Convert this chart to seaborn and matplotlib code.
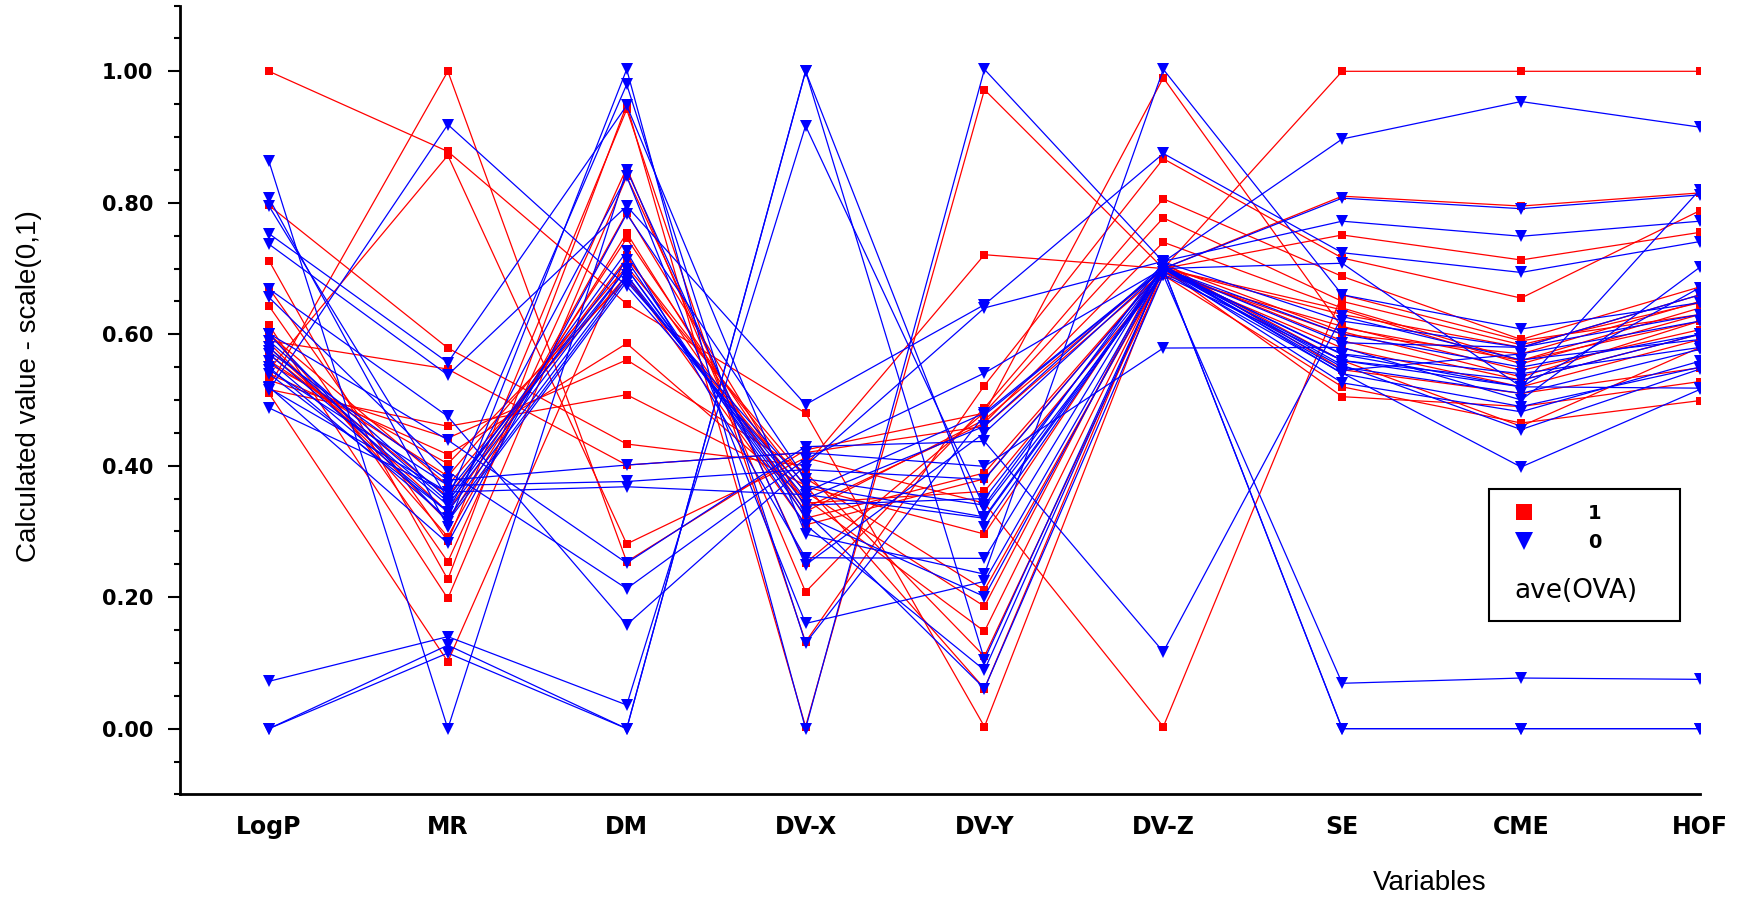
import numpy as np
import pandas as pd
import matplotlib
matplotlib.use("Agg")
import matplotlib.pyplot as plt
from matplotlib.lines import Line2D
from matplotlib.patches import Rectangle
from matplotlib.ticker import MultipleLocator
import seaborn as sns

# variables on the x axis
variables = ["LogP", "MR", "DM", "DV-X", "DV-Y", "DV-Z", "SE", "CME", "HOF"]

# class 1 (red squares), one entry per compound
red_logp = [1.00, 0.52, 0.546, 0.796, 0.712, 0.670, 0.643, 0.614, 0.602, 0.587, 0.58, 0.57, 0.560, 0.555, 0.54, 0.53, 0.516, 0.51, 0.59, 0.60]
red_mr = [0.878, 1.00, 0.872, 0.579, 0.227, 0.285, 0.254, 0.198, 0.292, 0.315, 0.33, 0.353, 0.384, 0.403, 0.417, 0.442, 0.460, 0.102, 0.547, 0.37]
red_dm = [0.646, 0.254, 0.281, 0.433, 0.949, 0.942, 0.853, 0.840, 0.785, 0.754, 0.746, 0.716, 0.703, 0.683, 0.586, 0.561, 0.508, 0.72, 0.401, 0.69]
red_dvx = [0.48, 0.424, 0.412, 0.40, 0.003, 0.132, 0.208, 0.252, 0.336, 0.320, 0.343, 0.368, 0.381, 0.36, 0.35, 0.39, 0.37, 0.33, 0.42, 0.31]
red_dvy = [0.003, 0.48, 0.343, 0.721, 0.972, 0.522, 0.488, 0.481, 0.465, 0.389, 0.361, 0.296, 0.211, 0.186, 0.148, 0.110, 0.061, 0.47, 0.46, 0.38]
red_dvz = [0.70, 0.99, 0.003, 0.70, 0.70, 0.867, 0.806, 0.777, 0.740, 0.70, 0.69, 0.705, 0.695, 0.71, 0.70, 0.69, 0.705, 0.70, 0.695, 0.70]
red_se = [1.00, 0.61, 0.66, 0.751, 0.81, 0.716, 0.688, 0.65, 0.64, 0.637, 0.612, 0.604, 0.579, 0.546, 0.505, 0.52, 0.56, 0.59, 0.60, 0.63]
red_cme = [1.00, 0.56, 0.59, 0.713, 0.795, 0.655, 0.592, 0.584, 0.56, 0.555, 0.545, 0.535, 0.52, 0.51, 0.49, 0.465, 0.46, 0.53, 0.57, 0.58]
red_hof = [1.00, 0.62, 0.63, 0.755, 0.815, 0.788, 0.672, 0.648, 0.64, 0.63, 0.607, 0.62, 0.592, 0.549, 0.528, 0.499, 0.58, 0.60, 0.65, 0.66]

# class 0 (blue triangles)
blue_logp = [0.0, 0.0, 0.072, 0.515, 0.863, 0.807, 0.795, 0.753, 0.737, 0.669, 0.656, 0.601, 0.574, 0.546, 0.518, 0.488, 0.59, 0.58, 0.57, 0.56, 0.55, 0.60, 0.54, 0.52]
blue_mr = [0.115, 0.127, 0.140, 0.919, 0.0, 0.307, 0.35, 0.557, 0.538, 0.475, 0.391, 0.439, 0.378, 0.37, 0.36, 0.36, 0.35, 0.345, 0.34, 0.33, 0.32, 0.315, 0.33, 0.282]
blue_dm = [0.0, 0.0, 0.036, 0.673, 0.850, 1.003, 0.98, 0.948, 0.795, 0.158, 0.213, 0.252, 0.401, 0.376, 0.368, 0.70, 0.726, 0.713, 0.70, 0.69, 0.685, 0.68, 0.840, 0.783]
blue_dvx = [1.0, 1.0, 0.917, 0.36, 0.249, 0.0, 0.130, 0.296, 0.493, 0.40, 0.41, 0.429, 0.42, 0.394, 0.356, 0.323, 0.26, 0.31, 0.33, 0.34, 0.35, 0.37, 0.160, 0.38]
blue_dvy = [0.105, 0.307, 0.336, 0.48, 0.45, 1.003, 0.477, 0.235, 0.645, 0.640, 0.541, 0.437, 0.399, 0.379, 0.32, 0.201, 0.259, 0.089, 0.061, 0.35, 0.46, 0.322, 0.224, 0.34]
blue_dvz = [0.70, 0.70, 0.69, 0.70, 0.70, 0.71, 0.70, 1.003, 0.875, 0.711, 0.70, 0.117, 0.579, 0.70, 0.695, 0.70, 0.705, 0.70, 0.69, 0.70, 0.705, 0.70, 0.70, 0.71]
blue_se = [0.0, 0.0, 0.069, 0.56, 0.708, 0.897, 0.807, 0.660, 0.724, 0.772, 0.587, 0.627, 0.58, 0.569, 0.541, 0.526, 0.553, 0.55, 0.56, 0.57, 0.54, 0.60, 0.545, 0.62]
blue_cme = [0.0, 0.0, 0.077, 0.53, 0.52, 0.954, 0.791, 0.608, 0.694, 0.749, 0.58, 0.561, 0.50, 0.52, 0.398, 0.482, 0.455, 0.51, 0.52, 0.54, 0.49, 0.55, 0.57, 0.58]
blue_hof = [0.0, 0.0, 0.075, 0.60, 0.820, 0.915, 0.812, 0.648, 0.741, 0.772, 0.63, 0.592, 0.702, 0.671, 0.516, 0.559, 0.547, 0.577, 0.518, 0.58, 0.55, 0.60, 0.62, 0.66]

y_ticks = [0.0, 0.2, 0.4, 0.6, 0.8, 1.0]


def to_long(columns):
    df = pd.DataFrame(dict(zip(variables, columns)))
    df["line"] = range(len(df))
    long = df.melt(id_vars="line", var_name="variable", value_name="value")
    long["pos"] = long["variable"].map({v: i for i, v in enumerate(variables)})
    return long


red_df = to_long([red_logp, red_mr, red_dm, red_dvx, red_dvy, red_dvz, red_se, red_cme, red_hof])
blue_df = to_long([blue_logp, blue_mr, blue_dm, blue_dvx, blue_dvy, blue_dvz, blue_se, blue_cme, blue_hof])

sns.set_theme(style="white", rc={"axes.edgecolor": "black", "xtick.color": "black",
                                 "ytick.color": "black", "text.color": "black"})
plt.rcParams["font.family"] = ["Liberation Sans", "DejaVu Sans"]

fig = plt.figure(figsize=(17.48, 8.97), dpi=100)
ax = fig.add_axes([0.1027, 0.1144, 0.8698, 0.8794])

# red first, blue drawn on top
sns.lineplot(data=red_df, x="pos", y="value", units="line", estimator=None,
             color="#ff0000", marker="s", markersize=6, markeredgewidth=0,
             linewidth=0.9, legend=False, ax=ax)
sns.lineplot(data=blue_df, x="pos", y="value", units="line", estimator=None,
             color="#0000ff", marker="v", markersize=8.5, markeredgewidth=0,
             linewidth=0.9, legend=False, ax=ax)

ax.set_xlim(-0.5, 8)
ax.set_ylim(-0.1, 1.1)
sns.despine(ax=ax)
for side in ["left", "bottom"]:
    ax.spines[side].set_linewidth(2)

ax.set_xticks(range(len(variables)))
ax.set_xticklabels(variables, fontfamily="DejaVu Sans", fontweight="bold", fontsize=17)
ax.set_yticks(y_ticks)
ax.set_yticklabels([f"{t:.2f}" for t in y_ticks], fontfamily="DejaVu Sans",
                   fontweight="bold", fontsize=15)
ax.yaxis.set_minor_locator(MultipleLocator(0.05))
ax.tick_params(axis="x", length=8.5, width=1.5, pad=6, direction="out")
ax.tick_params(axis="y", which="major", length=9, width=1.5, pad=10, direction="out", left=True)
ax.tick_params(axis="y", which="minor", length=4.3, width=1.5, direction="out", left=True)
ax.set_xlabel("")
ax.set_ylabel("")

fig.text(29 / 1748, 1 - 386 / 897, "Calculated value - scale(0,1)", rotation=90,
         ha="center", va="center", fontsize=20)
fig.text(1430 / 1748, 1 - 883 / 897, "Variables", ha="center", va="center", fontsize=20)

# legend: frame drawn separately, caption placed under the entries
frame = Rectangle((0.8611, 0.2201), 0.1257, 0.1673, transform=ax.transAxes,
                  facecolor="white", edgecolor="black", linewidth=1.5, zorder=5)
ax.add_patch(frame)
handles = [Line2D([], [], marker="s", color="#ff0000", linestyle="none", markersize=12, markeredgewidth=0),
           Line2D([], [], marker="v", color="#0000ff", linestyle="none", markersize=13, markeredgewidth=0)]
leg = ax.legend(handles, ["1", "0"], title="ave(OVA)", loc="upper left",
                bbox_to_anchor=(0.8777, 0.368), borderaxespad=0, borderpad=0,
                frameon=False, handlelength=1.0, handletextpad=2.8, labelspacing=0.5,
                alignment="left",
                prop={"family": "DejaVu Sans", "weight": "bold", "size": 14},
                title_fontproperties={"family": "DejaVu Sans", "size": 19})
leg._legend_box._children.reverse()
leg._legend_box.sep = 19
leg.set_zorder(6)

fig.savefig("out.png", dpi=100)
